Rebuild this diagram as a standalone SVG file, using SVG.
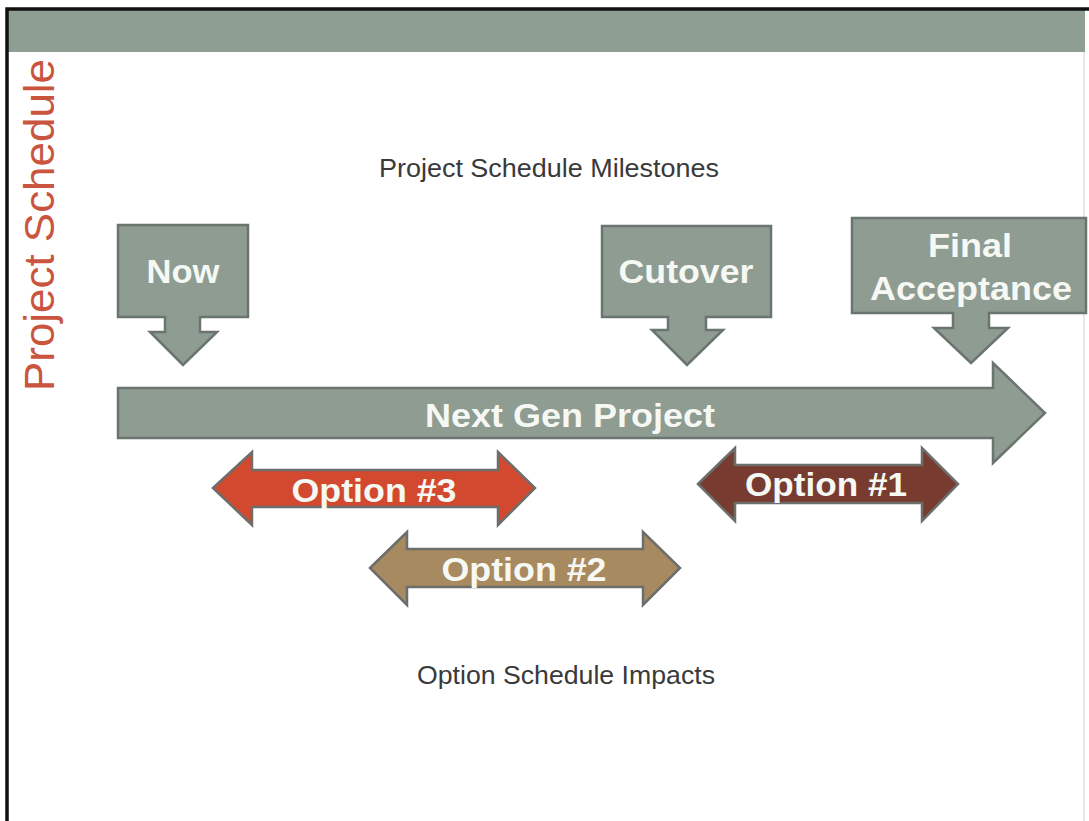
<svg xmlns="http://www.w3.org/2000/svg" width="1089" height="821" viewBox="0 0 1089 821">
<style>
.lbl{font-family:"Liberation Sans",Arial,sans-serif;font-weight:bold;font-size:33px;fill:#f6f8f4;text-anchor:middle}
.cap{font-family:"Liberation Sans",Arial,sans-serif;font-size:25px;fill:#3a3a3a;text-anchor:middle}
.ms{fill:#8e9c92;stroke:#6b756f;stroke-width:2.5;stroke-linejoin:miter}
.opt{stroke:#6b6e6b;stroke-width:2.5;stroke-linejoin:miter}
</style>
<rect x="0" y="0" width="1089" height="821" fill="#ffffff"/>
<g id="frame">
<rect x="8" y="10" width="1077" height="42" fill="#8f9e93"/>
<line x1="1084" y1="52" x2="1084" y2="821" stroke="#e2e2e2" stroke-width="1.5"/>
<path d="M7,821 V9 H1089" fill="none" stroke="#111111" stroke-width="3.5"/>
</g>
<g id="title">
<text transform="translate(54,391) rotate(-90)" font-family="Liberation Sans, Arial, sans-serif" font-size="43" fill="#c9553f" textLength="332" lengthAdjust="spacingAndGlyphs">Project Schedule</text>
</g>
<g id="milestones-caption"><text class="cap" x="549" y="177" textLength="340" lengthAdjust="spacingAndGlyphs">Project Schedule Milestones</text></g>
<g id="impacts-caption"><text class="cap" x="566" y="684" textLength="298" lengthAdjust="spacingAndGlyphs">Option Schedule Impacts</text></g>
<g id="next-gen-project">
<path class="ms" d="M118,388 H993 V363 L1045,413 L993,463 V438 H118 Z"/>
<text class="lbl" x="570" y="427" textLength="290" lengthAdjust="spacingAndGlyphs">Next Gen Project</text>
</g>
<g id="now">
<path class="ms" d="M118,225 H248 V317 H200 V332 H217 L183,365 L150,332 H165 V317 H118 Z"/>
<text class="lbl" x="183" y="283" textLength="73" lengthAdjust="spacingAndGlyphs">Now</text>
</g>
<g id="cutover">
<path class="ms" d="M602,226 H771 V317 H706 V330 H723 L687,365 L652,330 H668 V317 H602 Z"/>
<text class="lbl" x="686" y="283" textLength="135" lengthAdjust="spacingAndGlyphs">Cutover</text>
</g>
<g id="final-acceptance">
<path class="ms" d="M852,218 H1086 V313 H989 V328 H1008 L971,363 L934,328 H953 V313 H852 Z"/>
<text class="lbl" x="970" y="257" textLength="84" lengthAdjust="spacingAndGlyphs">Final</text>
<text class="lbl" x="971" y="300" textLength="202" lengthAdjust="spacingAndGlyphs">Acceptance</text>
</g>
<g id="option-3">
<path class="opt" fill="#d2492f" d="M213,488 L252,452 V470 H498 V452 L535,488 L498,525 V507 H252 V525 Z"/>
<text class="lbl" x="374" y="502" textLength="165" lengthAdjust="spacingAndGlyphs">Option #3</text>
</g>
<g id="option-2">
<path class="opt" fill="#a88a60" d="M370,568 L407,532 V549 H643 V532 L680,568 L643,605 V587 H407 V605 Z"/>
<text class="lbl" x="524" y="581" textLength="165" lengthAdjust="spacingAndGlyphs">Option #2</text>
</g>
<g id="option-1">
<path class="opt" fill="#773b30" d="M698,484 L735,448 V465 H922 V448 L958,484 L922,521 V503 H735 V521 Z"/>
<text class="lbl" x="826" y="496" textLength="162" lengthAdjust="spacingAndGlyphs">Option #1</text>
</g>
<g id="connectors"></g>
</svg>
